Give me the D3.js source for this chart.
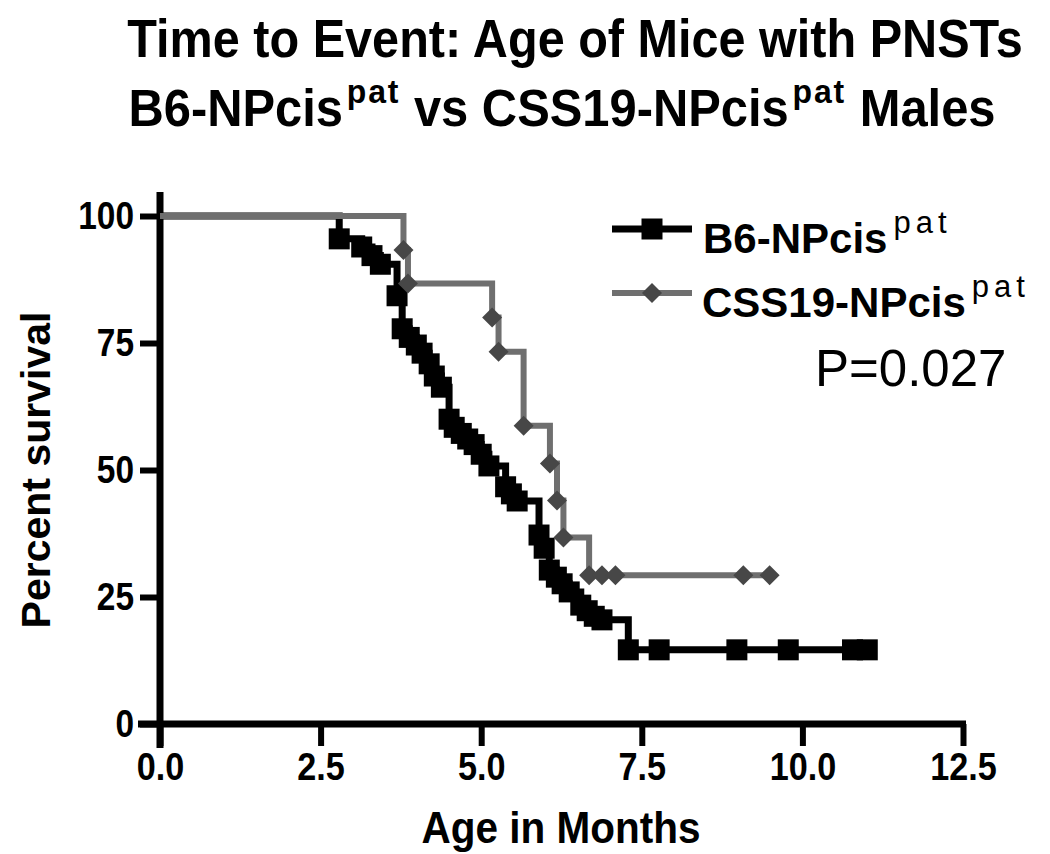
<!DOCTYPE html>
<html lang="en">
<head>
<meta charset="UTF-8">
<title>Time to Event</title>
<style>
  body { margin: 0; background: #fff; }
  svg text { font-family: "Liberation Sans", Arial, sans-serif; fill: #000; }
  .narrow { transform-box: fill-box; transform-origin: center; transform: scaleX(0.9); }
  .narrow2 { transform-box: fill-box; transform-origin: center; transform: scaleX(0.94); }
  .narrow-r { transform-box: fill-box; transform-origin: right center; transform: scaleX(0.88); }
</style>
</head>
<body>
<div id="chart"></div>
<script src="https://d3js.org/d3.v7.min.js"></script>
<script>
// survival data: [months, percent]
var b6Times = [2.79, 3.14, 3.30, 3.43, 3.69, 3.77, 3.88, 3.99, 4.08, 4.19, 4.27, 4.38,
               4.50, 4.58, 4.69, 4.79, 4.89, 5.00, 5.12, 5.38, 5.47, 5.56, 5.90, 5.98,
               6.06, 6.17, 6.26, 6.37, 6.55, 6.65, 6.76, 6.88, 7.29, 7.77, 8.98, 9.78,
               10.78, 11.01];
var b6Surv  = [95.5, 93.9, 92.2, 90.5, 84.3, 77.8, 76.1, 74.6, 73.0, 70.9, 68.5, 66.3,
               60.0, 58.4, 57.2, 56.1, 55.0, 53.1, 50.8, 46.7, 45.3, 43.9, 37.2, 34.6,
               30.3, 28.9, 27.6, 26.0, 23.4, 22.3, 21.2, 20.5, 14.6, 14.6, 14.6, 14.6,
               14.6, 14.6];
var cssTimes = [3.79, 3.86, 5.17, 5.27, 5.66, 6.07, 6.18, 6.28, 6.68, 6.88, 7.09, 9.08, 9.49];
var cssSurv  = [93.3, 86.7, 80.0, 73.3, 58.7, 51.3, 44.0, 36.7, 29.3, 29.3, 29.3, 29.3, 29.3];

var xTicks = [0, 2.5, 5, 7.5, 10, 12.5];
var yTicks = [0, 25, 50, 75, 100];

var W = 1050, H = 854;
var svg = d3.select("#chart").append("svg").attr("width", W).attr("height", H);

var x = d3.scaleLinear().domain([0, 12.5]).range([160, 963]);
var y = d3.scaleLinear().domain([0, 100]).range([724, 216]);

var b6 = [[0, 100]].concat(b6Times.map(function(t, i) { return [t, b6Surv[i]]; }));
var css = [[0, 100]].concat(cssTimes.map(function(t, i) { return [t, cssSurv[i]]; }));

var line = d3.line()
    .x(function(d) { return x(d[0]); })
    .y(function(d) { return y(d[1]); })
    .curve(d3.curveStepAfter);

// title
var title = svg.append("g");
title.append("text").attr("class", "narrow").attr("x", 575).attr("y", 57)
    .attr("text-anchor", "middle").style("font-size", "54px").style("font-weight", "bold")
    .text("Time to Event: Age of Mice with PNSTs");
var t2 = title.append("text").attr("class", "narrow2").attr("x", 562).attr("y", 126)
    .attr("text-anchor", "middle").style("font-size", "52px").style("font-weight", "bold");
t2.append("tspan").text("B6-NPcis");
t2.append("tspan").attr("dy", -23).attr("dx", 4).style("font-size", "34px").style("letter-spacing", "2px").text("pat");
t2.append("tspan").attr("dy", 23).text(" vs CSS19-NPcis");
t2.append("tspan").attr("dy", -23).attr("dx", 4).style("font-size", "34px").style("letter-spacing", "2px").text("pat");
t2.append("tspan").attr("dy", 23).text(" Males");

// axes
var yAxis = svg.append("g").attr("transform", "translate(160,0)")
    .call(d3.axisLeft(y).tickValues(yTicks).tickSize(20).tickPadding(6).tickFormat(d3.format("d")));
yAxis.select(".domain").remove();
yAxis.append("line").attr("x1", 0).attr("x2", 0).attr("y1", 192).attr("y2", 748)
    .attr("stroke", "#000").attr("stroke-width", 7);
yAxis.selectAll(".tick line").attr("stroke", "#000").attr("stroke-width", 6);
yAxis.selectAll(".tick text").attr("class", "narrow-r")
    .style("font-size", "38px").style("font-weight", "bold")
    .style("font-family", "'Liberation Sans', Arial, sans-serif").attr("fill", "#000");

var xAxis = svg.append("g").attr("transform", "translate(0,724)")
    .call(d3.axisBottom(x).tickValues(xTicks).tickSize(22).tickPadding(7).tickFormat(d3.format(".1f")));
xAxis.select(".domain").remove();
xAxis.append("line").attr("x1", 138).attr("x2", 966).attr("y1", 0).attr("y2", 0)
    .attr("stroke", "#000").attr("stroke-width", 7);
xAxis.selectAll(".tick line").attr("stroke", "#000").attr("stroke-width", 6);
xAxis.selectAll(".tick text").attr("class", "narrow")
    .style("font-size", "38px").style("font-weight", "bold")
    .style("font-family", "'Liberation Sans', Arial, sans-serif").attr("fill", "#000");

svg.append("text").attr("class", "narrow").attr("x", 561).attr("y", 843).attr("text-anchor", "middle")
    .style("font-size", "45px").style("font-weight", "bold").text("Age in Months");
svg.append("text").attr("transform", "translate(50,470) rotate(-90)").attr("text-anchor", "middle")
    .style("font-size", "41px").style("font-weight", "bold").text("Percent survival");

// curves
var square = d3.symbol().type(d3.symbolSquare).size(441);
var diamond = d3.symbol().type(d3.symbolSquare).size(200);

svg.append("path").datum(b6).attr("d", line)
    .attr("fill", "none").attr("stroke", "#000").attr("stroke-width", 7);
svg.selectAll(".b6pt").data(b6.slice(1)).enter().append("path")
    .attr("class", "b6pt")
    .attr("d", square)
    .attr("transform", function(d) { return "translate(" + x(d[0]) + "," + y(d[1]) + ")"; })
    .attr("fill", "#000");

svg.append("path").datum(css).attr("d", line)
    .attr("fill", "none").attr("stroke", "#6f6f6f").attr("stroke-width", 6);
svg.selectAll(".csspt").data(css.slice(1)).enter().append("path")
    .attr("class", "csspt")
    .attr("d", diamond)
    .attr("transform", function(d) { return "translate(" + x(d[0]) + "," + y(d[1]) + ") rotate(45)"; })
    .attr("fill", "#474747");

// legend
var leg = svg.append("g");
leg.append("line").attr("x1", 612).attr("x2", 692).attr("y1", 229).attr("y2", 229)
    .attr("stroke", "#000").attr("stroke-width", 7);
leg.append("path").attr("d", square).attr("transform", "translate(652,229)").attr("fill", "#000");
leg.append("line").attr("x1", 612).attr("x2", 692).attr("y1", 293).attr("y2", 293)
    .attr("stroke", "#6f6f6f").attr("stroke-width", 6);
leg.append("path").attr("d", diamond).attr("transform", "translate(652,293) rotate(45)").attr("fill", "#474747");

var l1 = leg.append("text").attr("x", 703).attr("y", 253).style("font-size", "42px").style("font-weight", "bold");
l1.append("tspan").text("B6-NPcis");
l1.append("tspan").attr("dx", 6).attr("dy", -20).style("font-size", "31px").style("font-weight", "normal")
    .style("letter-spacing", "5px").text("pat");
var l2 = leg.append("text").attr("x", 702).attr("y", 317).style("font-size", "42px").style("font-weight", "bold");
l2.append("tspan").text("CSS19-NPcis");
l2.append("tspan").attr("dx", 6).attr("dy", -20).style("font-size", "31px").style("font-weight", "normal")
    .style("letter-spacing", "5px").text("pat");

leg.append("text").attr("x", 815).attr("y", 386).style("font-size", "51px").text("P=0.027");
</script>
</body>
</html>
